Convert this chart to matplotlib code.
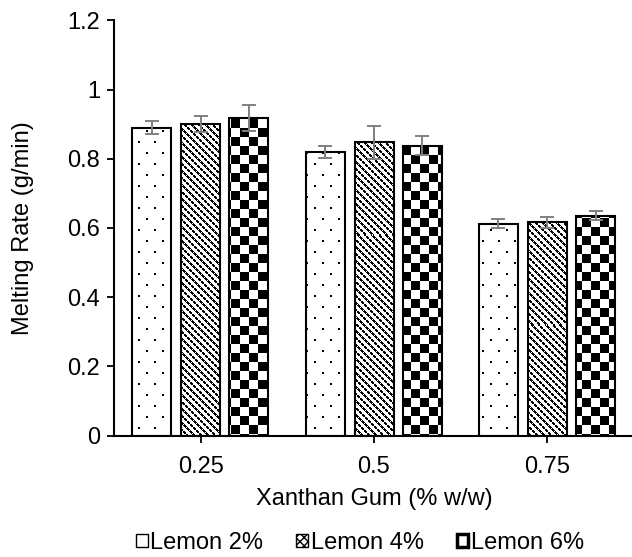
import numpy as np
import matplotlib
matplotlib.use('Agg')
import matplotlib.pyplot as plt
from matplotlib.patches import Rectangle

plt.rcParams['font.family'] = ['Liberation Sans', 'DejaVu Sans']
plt.rcParams['hatch.linewidth'] = 1.0

# data
gum_levels = ['0.25', '0.5', '0.75']
series = ['Lemon 2%', 'Lemon 4%', 'Lemon 6%']
lemon2 = [0.89, 0.82, 0.612]
lemon4 = [0.902, 0.848, 0.616]
lemon6 = [0.919, 0.838, 0.636]
lemon2_err = [0.018, 0.018, 0.013]
lemon4_err = [0.023, 0.048, 0.017]
lemon6_err = [0.038, 0.027, 0.014]

W, H = 632, 557
fig = plt.figure(figsize=(W / 100, H / 100), dpi=100)
ax_l, ax_b, ax_w, ax_h = 114, 435.5, 520, 415
ax = fig.add_axes([ax_l / W, (H - ax_b) / H, ax_w / W, ax_h / H])
fs = 17

x = np.arange(len(gum_levels))
offsets = [-0.282, 0.0, 0.278]
bw = 0.225

# pixel patterns (1 = white, 0 = black) covering the axes area
yy, xx = np.mgrid[0:ax_h, 0:ax_w]
dots = ~((((xx % 16) < 2) & ((yy % 22) < 2)) |
         ((((xx + 8) % 16) < 2) & (((yy + 11) % 22) < 2)))
diag = ~((((xx - yy) % 7) < 3) & (((xx + yy) % 6) < 5))
checker = ((xx // 9 + yy // 9) % 2).astype(bool)
patterns = [dots.astype(float), diag.astype(float), checker.astype(float)]

vals = [lemon2, lemon4, lemon6]
errs = [lemon2_err, lemon4_err, lemon6_err]
for k in range(3):
    pos = x + offsets[k]
    bars = ax.bar(pos, vals[k], bw, facecolor='white', edgecolor='none', zorder=1)
    for rect in bars:
        im = ax.imshow(patterns[k], cmap='gray', vmin=0, vmax=1,
                       extent=(-0.5, 2.5, 0, 1.2), aspect='auto',
                       interpolation='nearest', zorder=1.5)
        im.set_clip_path(rect)
    ax.bar(pos, vals[k], bw, fill=False, edgecolor='black', linewidth=1.5, zorder=2)
    ax.errorbar(pos, vals[k], yerr=errs[k], fmt='none', ecolor='#808080',
                elinewidth=1.4, capsize=4.8, capthick=1.4, zorder=3)

ax.set_xlim(-0.5, 2.5)
ax.set_ylim(0, 1.2)
ax.set_xticks(x)
ax.set_xticklabels(gum_levels, fontsize=fs)
ax.set_yticks(np.arange(0, 1.21, 0.2))
ax.set_yticklabels(['0', '0.2', '0.4', '0.6', '0.8', '1', '1.2'], fontsize=fs)
ax.tick_params(axis='y', direction='out', length=5, width=1.3, pad=5)
ax.tick_params(axis='x', direction='out', length=5, width=1.3, pad=9.5)
for s in ['top', 'right']:
    ax.spines[s].set_visible(False)
for s in ['left', 'bottom']:
    ax.spines[s].set_linewidth(1.5)

ax.set_ylabel('Melting Rate (g/min)', fontsize=fs)
ax.yaxis.set_label_coords(-0.154, 0.5)
ax.set_xlabel('Xanthan Gum (% w/w)', fontsize=fs)
ax.xaxis.set_label_coords(0.5, -0.127)

handles = [Rectangle((0, 0), 1, 1, facecolor='white', edgecolor='black', lw=1, hatch='.'),
           Rectangle((0, 0), 1, 1, facecolor='white', edgecolor='black', lw=1, hatch='xxxx'),
           Rectangle((0, 0), 1, 1, facecolor='white', edgecolor='black', lw=2.5)]
fig.legend(handles, series, loc='center', bbox_to_anchor=(360 / W, 1 - 543 / H),
           ncol=3, frameon=False, fontsize=fs, handlelength=0.5, handleheight=0.5,
           handletextpad=0.1, columnspacing=1.4)

fig.savefig('out.png', dpi=100)
